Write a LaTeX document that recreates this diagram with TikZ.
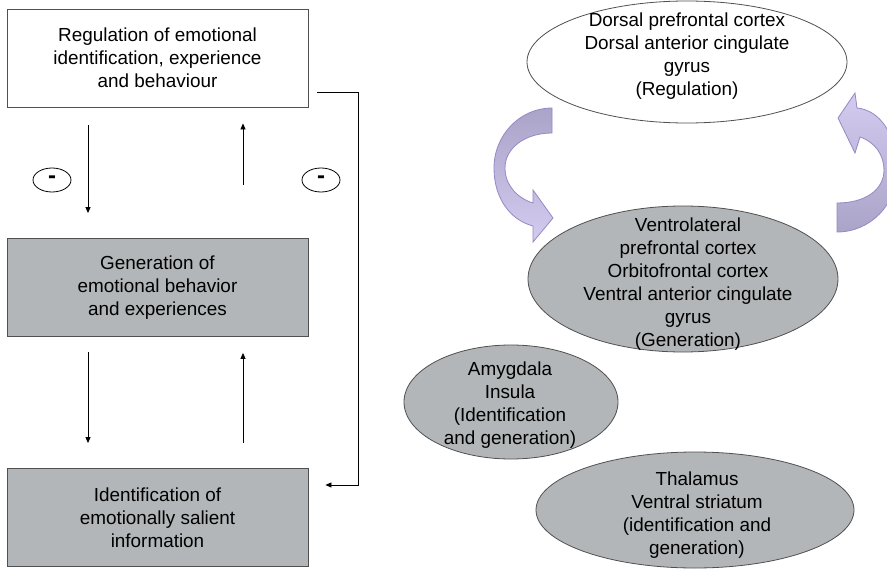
\documentclass[tikz,border=0pt]{standalone}
\usepackage{fontspec}
\setmainfont{Liberation Sans}
\usetikzlibrary{shapes.geometric,arrows.meta}
\definecolor{boxgray}{RGB}{178,182,184}
\definecolor{edgegray}{RGB}{80,80,80}
\definecolor{lavdark}{RGB}{170,164,200}
\definecolor{lavlight}{RGB}{212,203,240}
\definecolor{lavline}{RGB}{150,136,196}
\begin{document}
\begin{tikzpicture}[x=1pt,y=-1pt,
    txt/.style={align=center,font=\fontsize{18.9}{23}\selectfont,inner sep=0pt},
    stagebox/.style={txt,draw=edgegray,line width=0.8pt,minimum width=301pt,minimum height=98pt},
    minus/.style={draw,ellipse,line width=0.8pt,minimum width=38pt,minimum height=24pt,inner sep=0pt,font=\fontsize{24}{24}\bfseries},
    link/.style={-{Triangle[length=6pt,width=5pt]},line width=0.8pt},
    area/.style={draw=edgegray,line width=0.8pt},
    curlarrow/.style={draw=lavline,line width=0.8pt}]
    \useasboundingbox (0,0) rectangle (887,570);
    % left column
    \node[stagebox] (reg) at (157.5,58) {Regulation of emotional\\identification, experience\\and behaviour};
    \node[stagebox,fill=boxgray] (gen) at (157.5,287.5) {Generation of\\emotional behavior\\and experiences};
    \node[stagebox,fill=boxgray] (ident) at (157.5,517.5) {Identification of\\emotionally salient\\information};
    \draw[link,shorten <=18pt,shorten >=25pt] ([xshift=-69.5pt]reg.south) -- ([xshift=-69.5pt]gen.north);
    \draw[link,shorten <=53pt,shorten >=16pt] ([xshift=85.5pt]gen.north) -- ([xshift=85.5pt]reg.south);
    \draw[link,shorten <=15pt,shorten >=25pt] ([xshift=-69.5pt]gen.south) -- ([xshift=-69.5pt]ident.north);
    \draw[link,shorten <=25pt,shorten >=16pt] ([xshift=85.5pt]ident.north) -- ([xshift=85.5pt]gen.south);
    \draw[link] ([xshift=9pt,yshift=-34pt]reg.east) -- ++(41,0) |- ([xshift=17pt,yshift=32.5pt]ident.east);
    \node[minus] (negL) at (52,180) {\raisebox{-2.5pt}{-}};
    \node[minus] (negR) at (321,180) {\raisebox{-2.5pt}{-}};
    % right column
    \draw[area,fill=white] (687,62) ellipse (160 and 61);
    \node[txt] (dors) at (687,56) {Dorsal prefrontal cortex\\Dorsal anterior cingulate\\gyrus\\(Regulation)};
    \draw[area,fill=boxgray] (683,279) ellipse (155 and 73);
    \node[txt] (vent) at (688,284) {Ventrolateral\\prefrontal cortex\\Orbitofrontal cortex\\Ventral anterior cingulate\\gyrus\\(Generation)};
    \draw[area,fill=boxgray] (511,402) ellipse (107 and 57);
    \node[txt] (amyg) at (510,405) {Amygdala\\Insula\\(Identification\\and generation)};
    \draw[area,fill=boxgray] (695,510) ellipse (159 and 58);
    \node[txt] (thal) at (697,515) {Thalamus\\Ventral striatum\\(identification and\\generation)};
    % curved arrows
    \draw[curlarrow,top color=lavdark,bottom color=lavlight] (552,108) .. controls (520,108) and (494,135) .. (494,168)
        .. controls (494,198) and (510,220) .. (533,226) -- (533,242) -- (553,218) -- (533,190) -- (533,203)
        .. controls (517,198) and (505,185) .. (505,168) .. controls (505,148) and (525,133) .. (552,133) -- cycle;
    \begin{scope}
        \clip (0,0) rectangle (887,570);
        \draw[curlarrow,top color=lavlight,bottom color=lavdark] (837,232) .. controls (870,232) and (897,205) .. (897,170)
            .. controls (897,135) and (880,110) .. (857,108) -- (855,93) -- (838,118) -- (855,153) -- (860,137)
            .. controls (875,142) and (884,155) .. (884,170) .. controls (884,190) and (865,203) .. (837,203) -- cycle;
    \end{scope}
\end{tikzpicture}
\end{document}
